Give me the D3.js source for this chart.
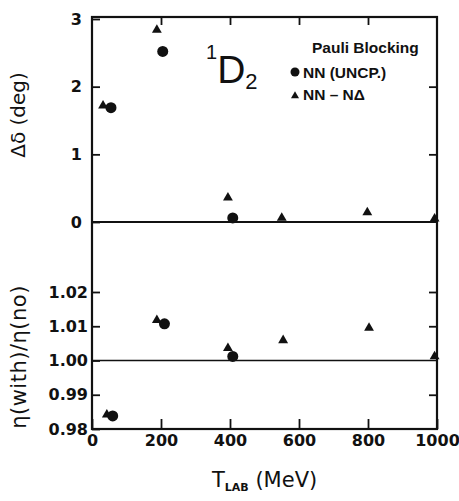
<!DOCTYPE html>
<html>
<head>
<meta charset="utf-8">
<script src="https://cdn.jsdelivr.net/npm/d3@7"></script>
<style>
  body { margin: 0; background: #fff; }
  svg text { fill: #111; }
</style>
</head>
<body>
<div id="chart"></div>
<script>
// energies (MeV) and values
let circleE = [55, 205, 408];
let circleDelta = [1.69, 2.52, 0.06];
let triE = [32, 188, 394, 550, 798, 993];
let triDelta = [1.72, 2.84, 0.36, 0.06, 0.14, 0.05];

let circleEtaE = [60, 210, 408];
let circleEta = [0.9838, 1.0107, 1.0012];
let triEtaE = [43, 188, 394, 554, 803, 993];
let triEta = [0.9842, 1.0118, 1.0036, 1.0059, 1.0095, 1.0012];

let xTicks = [0, 200, 400, 600, 800, 1000];
let topTicks = [0, 1, 2, 3];
let botTicks = [0.98, 0.99, 1.00, 1.01, 1.02];

let width = 459, height = 501;
let padL = 92, padR = 437, padT = 17, midY = 222, padB = 429;

let svg = d3.select("#chart")
    .append("svg")
    .attr("width", width)
    .attr("height", height);

// scales
let x = d3.scaleLinear().domain([0, 1000]).range([padL, padR]);
let yTop = d3.scaleLinear().domain([0, 3]).range([midY, padT + 2]);
let yBot = d3.scaleLinear().domain([0.98, 1.02]).range([padB, 292]);

let tickFont = "'DejaVu Sans', sans-serif";

// top panel left axis
svg.append("g")
    .attr("transform", "translate(" + padL + ",0)")
    .call(d3.axisLeft(yTop).tickValues(topTicks).tickSize(-8).tickPadding(10).tickFormat(d3.format("d")))
    .call(g => g.select(".domain").remove());
// top panel right axis
svg.append("g")
    .attr("transform", "translate(" + padR + ",0)")
    .call(d3.axisRight(yTop).tickValues([1, 2]).tickSize(-8).tickFormat(""))
    .call(g => g.select(".domain").remove());
// top edge ticks
svg.append("g")
    .attr("transform", "translate(0," + padT + ")")
    .call(d3.axisTop(x).tickValues([200, 400, 600, 800]).tickSize(-8).tickFormat(""))
    .call(g => g.select(".domain").remove());

// bottom panel left axis
svg.append("g")
    .attr("transform", "translate(" + padL + ",0)")
    .call(d3.axisLeft(yBot).tickValues(botTicks).tickSize(-8).tickPadding(4).tickFormat(d3.format(".2f")))
    .call(g => g.select(".domain").remove());
svg.append("g")
    .attr("transform", "translate(" + padR + ",0)")
    .call(d3.axisRight(yBot).tickValues([0.99, 1.01, 1.02]).tickSize(-8).tickFormat(""))
    .call(g => g.select(".domain").remove());
// x axis
svg.append("g")
    .attr("transform", "translate(0," + padB + ")")
    .call(d3.axisBottom(x).tickValues(xTicks).tickSize(-10).tickPadding(6).tickFormat(d3.format("d")))
    .call(g => g.select(".domain").remove());

svg.selectAll(".tick line").attr("stroke", "#111").attr("stroke-width", 1.8);
svg.selectAll(".tick text")
    .style("font-family", tickFont)
    .style("font-weight", "bold")
    .style("font-size", "16px")
    .attr("fill", "#111");

// frame
svg.append("rect")
    .attr("x", padL).attr("y", padT)
    .attr("width", padR - padL).attr("height", padB - padT)
    .attr("fill", "none").attr("stroke", "#111").attr("stroke-width", 2.2);
svg.append("line")
    .attr("x1", padL).attr("x2", padR)
    .attr("y1", yTop(0)).attr("y2", yTop(0))
    .attr("stroke", "#111").attr("stroke-width", 2.2);
svg.append("line")
    .attr("x1", padL).attr("x2", padR)
    .attr("y1", yBot(1.00)).attr("y2", yBot(1.00))
    .attr("stroke", "#111").attr("stroke-width", 1.6);

// markers
let tri = d3.symbol().type(d3.symbolTriangle).size(42);

function drawCircles(es, vs, y) {
    svg.selectAll(null)
        .data(es)
        .enter()
        .append("circle")
        .attr("cx", function (d) { return x(d); })
        .attr("cy", function (d, i) { return y(vs[i]); })
        .attr("r", 5.5)
        .attr("fill", "#111");
}
function drawTris(es, vs, y) {
    svg.selectAll(null)
        .data(es)
        .enter()
        .append("path")
        .attr("d", tri)
        .attr("transform", function (d, i) { return "translate(" + x(d) + "," + y(vs[i]) + ")"; })
        .attr("fill", "#111");
}
drawTris(triE, triDelta, yTop);
drawCircles(circleE, circleDelta, yTop);
drawTris(triEtaE, triEta, yBot);
drawCircles(circleEtaE, circleEta, yBot);

// 1D2 label
let wave = svg.append("text")
    .attr("x", 206).attr("y", 83)
    .style("font-family", "'Liberation Sans', sans-serif")
    .style("font-size", "39px");
wave.append("tspan").text("1").style("font-size", "20px").attr("dy", -24);
wave.append("tspan").text("D").attr("dy", 24);
wave.append("tspan").text("2").style("font-size", "22px").attr("dy", 6);

// legend
let legFont = "'Liberation Sans', sans-serif";
svg.append("text")
    .attr("x", 312).attr("y", 53)
    .style("font-family", legFont).style("font-weight", "bold").style("font-size", "15.5px")
    .text("Pauli Blocking");
svg.append("circle").attr("cx", 295).attr("cy", 72).attr("r", 4.5).attr("fill", "#111");
svg.append("text")
    .attr("x", 303).attr("y", 78)
    .style("font-family", legFont).style("font-weight", "bold").style("font-size", "15.5px")
    .text("NN (UNCP.)");
svg.append("path").attr("d", d3.symbol().type(d3.symbolTriangle).size(28))
    .attr("transform", "translate(295,96)").attr("fill", "#111");
svg.append("text")
    .attr("x", 303).attr("y", 100)
    .style("font-family", legFont).style("font-weight", "bold").style("font-size", "15.5px")
    .text("NN \u2013 N\u0394");

// axis titles
svg.append("text")
    .attr("transform", "translate(25,115) rotate(-90)")
    .attr("text-anchor", "middle")
    .style("font-family", tickFont).style("font-size", "20px")
    .text("\u0394\u03b4 (deg)");
svg.append("text")
    .attr("transform", "translate(26,357) rotate(-90)")
    .attr("text-anchor", "middle")
    .style("font-family", tickFont).style("font-size", "21px")
    .style("letter-spacing", "0.5px")
    .text("\u03b7(with)/\u03b7(no)");

let xt = svg.append("text")
    .attr("x", 212).attr("y", 487)
    .style("font-family", tickFont).style("font-size", "21px");
xt.append("tspan").text("T");
xt.append("tspan").text("LAB").style("font-size", "11px").style("font-weight", "bold").attr("dy", 4);
xt.append("tspan").text(" (MeV)").attr("dy", -4);
</script>
</body>
</html>
